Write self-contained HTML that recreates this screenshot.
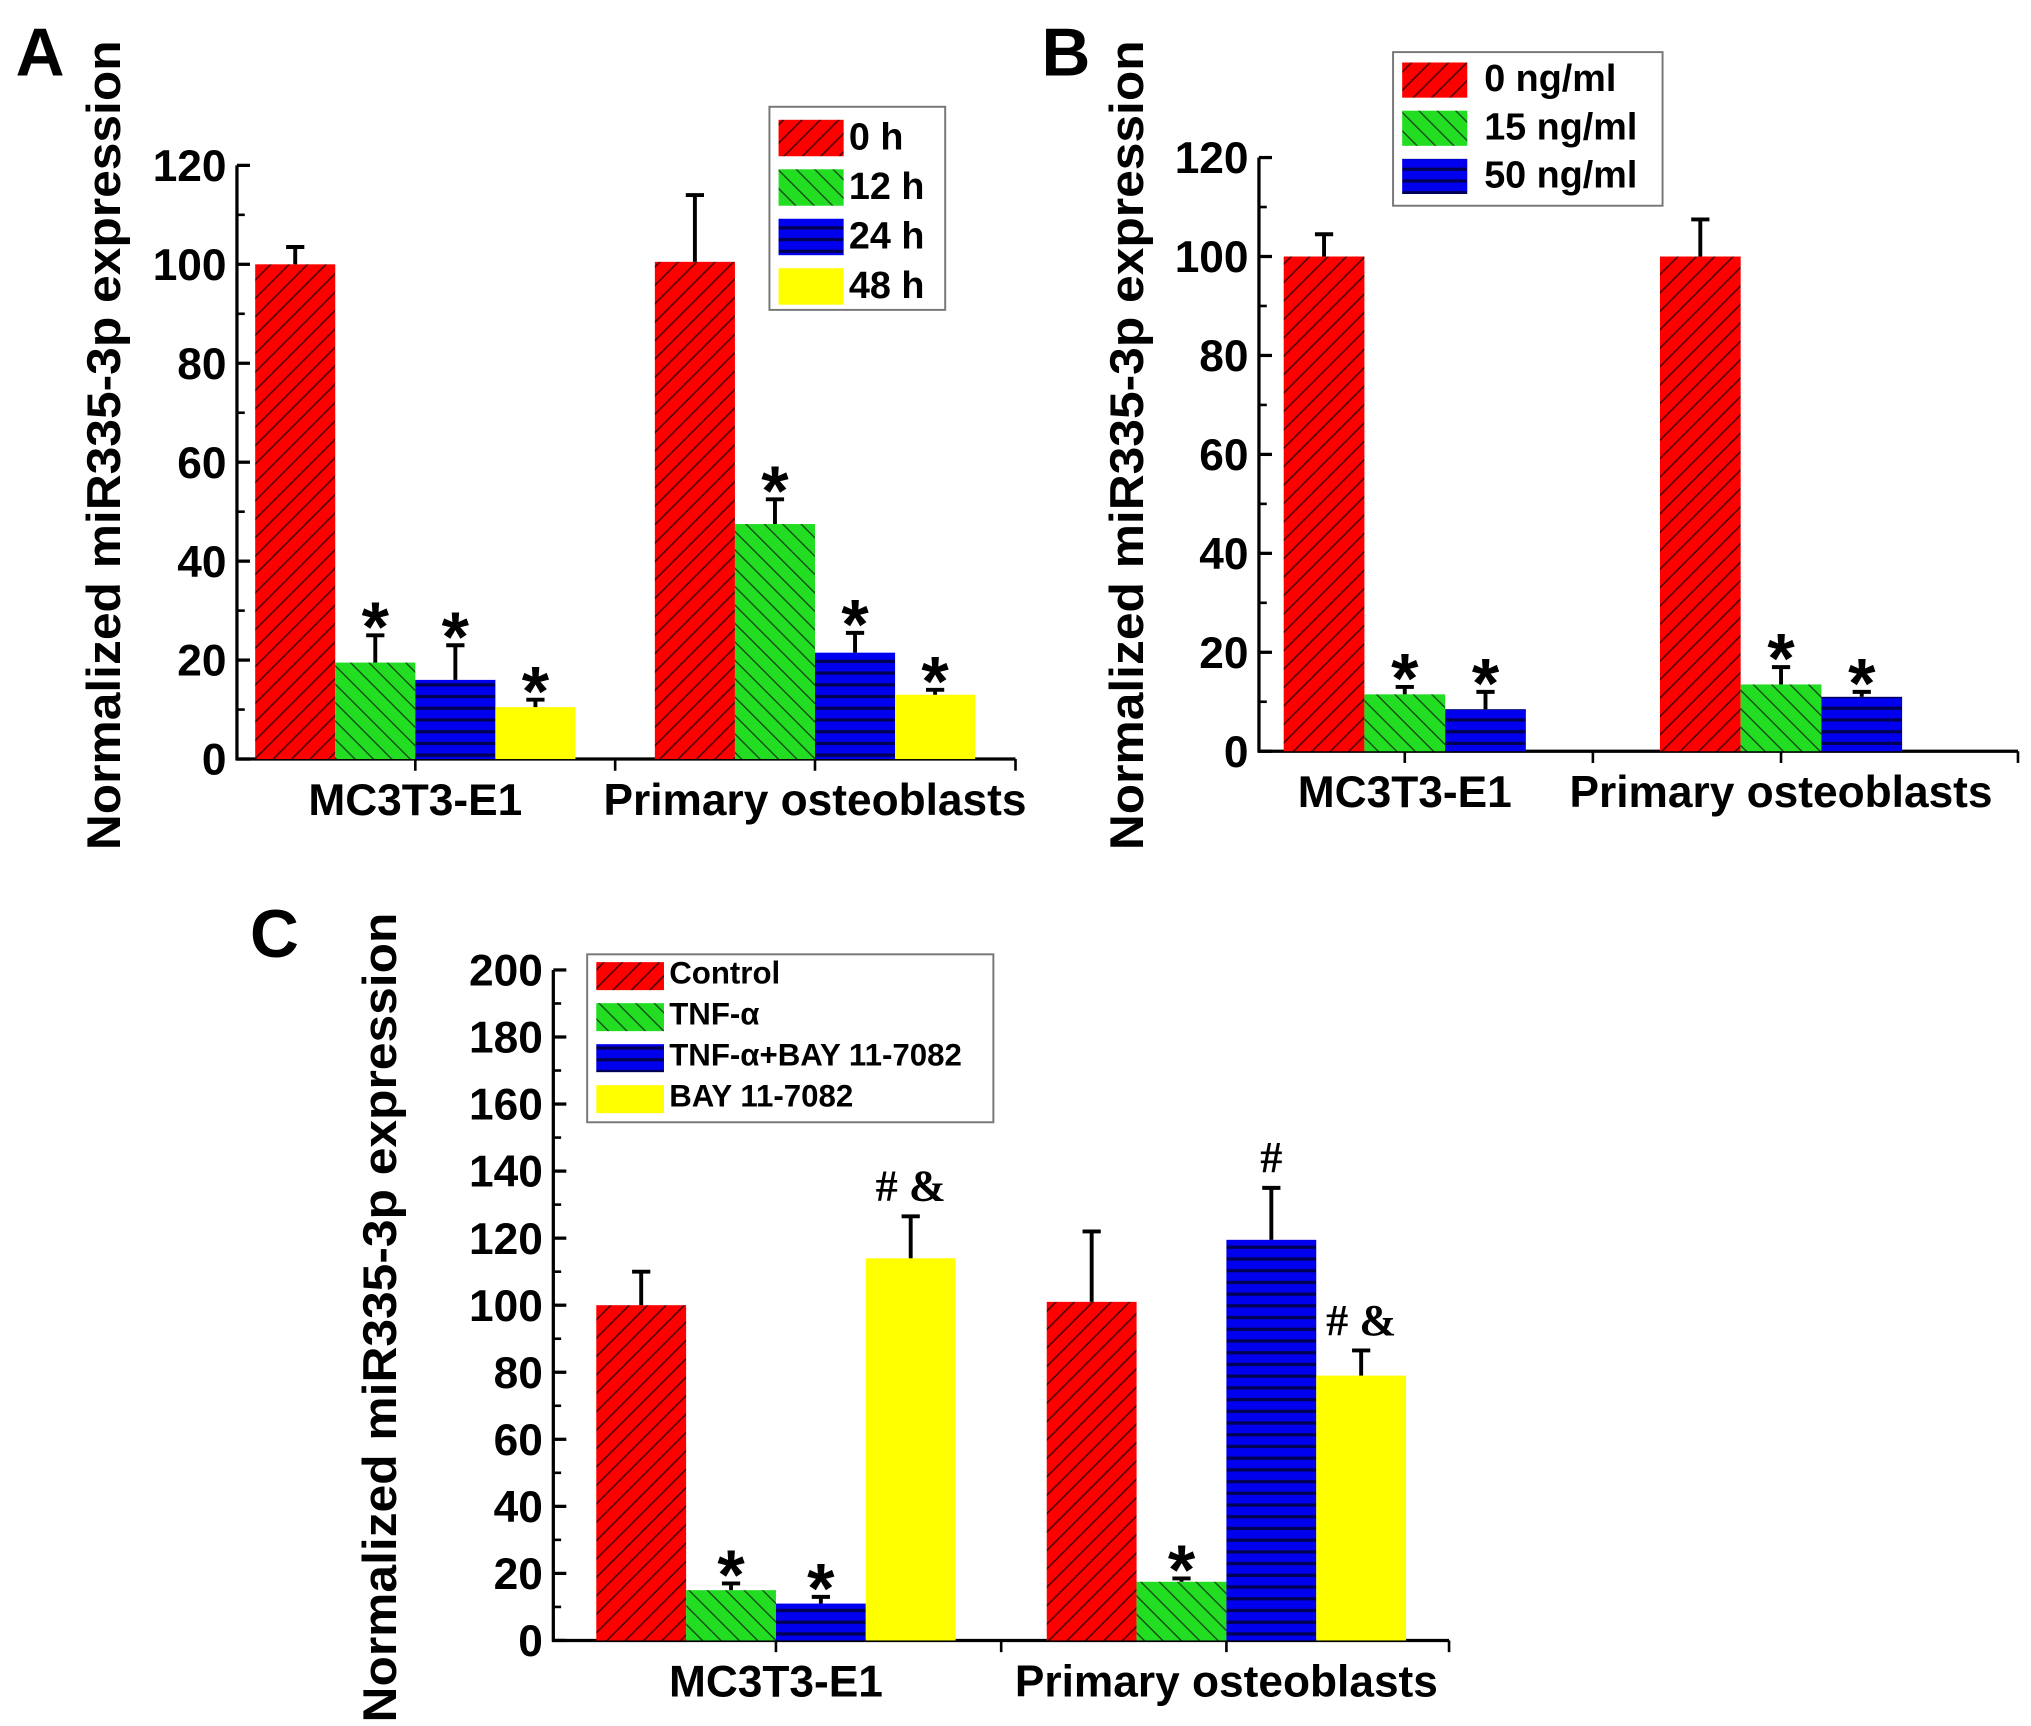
<!DOCTYPE html>
<html><head><meta charset="utf-8"><style>
html,body{margin:0;padding:0;background:#fff;}
svg{display:block;font-family:"Liberation Sans",sans-serif;font-weight:bold;}
</style></head><body>
<svg id="fig" width="2031" height="1726" viewBox="0 0 1560 1325.7" xmlns="http://www.w3.org/2000/svg">
<defs>
<pattern id="pRed" patternUnits="userSpaceOnUse" width="10" height="10" patternTransform="rotate(45)">
<rect width="10" height="10" fill="#ff0000"/><line x1="0" y1="0" x2="0" y2="10" stroke="#550000" stroke-width="2.5"/></pattern>
<pattern id="pGreen" patternUnits="userSpaceOnUse" width="10" height="10" patternTransform="rotate(-45)">
<rect width="10" height="10" fill="#22dd22"/><line x1="0" y1="0" x2="0" y2="10" stroke="#114411" stroke-width="2"/></pattern>
<pattern id="pBlue" patternUnits="userSpaceOnUse" width="12" height="9">
<rect width="12" height="9" fill="#0000ee"/><line x1="0" y1="4" x2="12" y2="4" stroke="#000055" stroke-width="2.5"/></pattern>
<pattern id="pYellow" patternUnits="userSpaceOnUse" width="10" height="10"><rect width="10" height="10" fill="#ffff00"/></pattern>
</defs>
</svg>
<script>
// Panel A data
const catsA = ["MC3T3-E1","Primary osteoblasts"];
const seriesA = ["0 h","12 h","24 h","48 h"];
const valsA = [[100,19.5,16,10.5],[100.5,47.5,21.5,13]];
const errA = [[3.5,5.5,7,1.5],[13.5,5,4,1]];
const marksA = [["","*","*","*"],["","*","*","*"]];
const ticksA = [0,20,40,60,80,100,120];
// Panel B data
const catsB = ["MC3T3-E1","Primary osteoblasts"];
const seriesB = ["0 ng/ml","15 ng/ml","50 ng/ml"];
const valsB = [[100,11.5,8.5],[100,13.5,11]];
const errB = [[4.5,1.5,3.5],[7.5,3.5,1]];
const marksB = [["","*","*"],["","*","*"]];
const ticksB = [0,20,40,60,80,100,120];
// Panel C data
const catsC = ["MC3T3-E1","Primary osteoblasts"];
const seriesC = ["Control","TNF-α","TNF-α+BAY 11-7082","BAY 11-7082"];
const valsC = [[100,15,11,114],[101,17.5,119.5,79]];
const errC = [[10,2,2,12.5],[21,1,15.5,7.5]];
const marksC = [["","*","*","# &"],["","*","#","# &"]];
const ticksC = [0,20,40,60,80,100,120,140,160,180,200];

const fills = ["url(#pRed)","url(#pGreen)","url(#pBlue)","url(#pYellow)"];
const svg = document.getElementById('fig');
const NS = "http://www.w3.org/2000/svg";
function mk(tag, attrs, parent){const e=document.createElementNS(NS,tag);for(const k in attrs)e.setAttribute(k,attrs[k]);(parent||svg).appendChild(e);return e;}

function panel(o){
  const g = mk('g',{});
  
  
  const y = v => o.y0 - v * (o.y0 - o.yTop) / o.yMax;
  const ticks = o.ticks;
  const ax = mk('line',{x1:o.ax,y1:y(ticks[ticks.length-1]),x2:o.ax,y2:o.y0+1,stroke:'#000','stroke-width':2.5},g);
  
  
  const xa = mk('line',{x1:o.ax-1,y1:o.y0,x2:o.axEnd,y2:o.y0,stroke:'#000','stroke-width':2.5},g);
  
  
  const step = ticks[1]-ticks[0];
  for(let i=0;i<ticks.length;i++){
    const t=ticks[i];
    mk('line',{x1:o.ax,y1:y(t),x2:o.ax+10,y2:y(t),stroke:'#000','stroke-width':2.5},g);
    if(i<ticks.length-1) mk('line',{x1:o.ax,y1:y(t+step/2),x2:o.ax+6,y2:y(t+step/2),stroke:'#000','stroke-width':2},g);
    const tl = mk('text',{x:o.ax-8,y:y(t)+12,'text-anchor':'end','font-size':o.tickFs},g);
    tl.textContent = t;
    
    
  }
  const nS = o.vals[0].length;
  const groupW = o.bw*nS;
  const centers = o.gx.map(s=>s+groupW/2);
  const mid = (o.gx[0]+groupW + o.gx[1])/2;
  [centers[0],mid,centers[1],o.axEnd].forEach(xx=>mk('line',{x1:xx,y1:o.y0,x2:xx,y2:o.y0+9,stroke:'#000','stroke-width':2},g));
  for(let c=0;c<o.cats.length;c++){
    const cl = mk('text',{x:centers[c]+(c===1?o.cat2Shift:0),y:o.y0+43,'text-anchor':'middle','font-size':o.catFs},g);
    cl.textContent = o.cats[c];
    
    
    for(let s=0;s<nS;s++){
      const v=o.vals[c][s], e=o.err[c][s];
      const x0=o.gx[c]+s*o.bw, xc=x0+o.bw/2;
      const r = mk('rect',{x:x0,y:y(v),width:o.bw,height:o.y0-y(v),fill:fills[s]},g);
      
      
      mk('line',{x1:xc,y1:y(v),x2:xc,y2:y(v+e),stroke:'#000','stroke-width':3},g);
      mk('line',{x1:xc-7,y1:y(v+e),x2:xc+7,y2:y(v+e),stroke:'#000','stroke-width':3},g);
      const m=o.marks[c][s];
      if(m){
        const isStar = m==='*';
        const mt = mk('text',{x:xc,y:y(v+e)-(isStar?-12:12),'text-anchor':'middle','font-size':isStar?54:34,
          'font-family':isStar?'Liberation Sans, sans-serif':'Liberation Serif, serif'},g);
        mt.textContent = m;
        
        
      }
    }
  }
  const yt = mk('text',{x:0,y:0,transform:`translate(${o.titleX},${o.titleY}) rotate(-90)`,'text-anchor':'middle','font-size':o.titleFs,textLength:o.titleLen,lengthAdjust:'spacingAndGlyphs'},g);
  yt.textContent = 'Normalized miR335-3p expression';
  
  
  const pl = mk('text',{x:o.letter[0],y:o.letter[1],'font-size':52},g);
  pl.textContent = o.letterText;
  
  
  const L=o.leg;
  const lg = mk('g',{},g);
  
  
  mk('rect',{x:L.x,y:L.y,width:L.w,height:L.h,fill:'#fff',stroke:'#777','stroke-width':1.5},lg);
  for(let s=0;s<o.series.length;s++){
    const ry=L.y+L.pad+s*L.rh;
    mk('rect',{x:L.x+7,y:ry,width:L.sw,height:L.rh-10,fill:fills[s]},lg);
    const lt = mk('text',{x:L.tx,y:ry+L.rh-15,'font-size':L.fs},lg);
    lt.textContent = o.series[s];
    
    
  }
}

panel({name:'panel-a',cats:catsA,series:seriesA,vals:valsA,err:errA,marks:marksA,ticks:ticksA,
  ax:182,axEnd:780,y0:583,yTop:127,yMax:120,bw:61.5,gx:[196,503],tickFs:34,catFs:34,cat2Shift:0,
  titleX:92,titleY:342,titleFs:36,titleLen:622,letter:[12,58],letterText:'A',
  leg:{x:591,y:82,w:135,h:156,pad:10,rh:38,sw:50,tx:652,fs:29}});
panel({name:'panel-b',cats:catsB,series:seriesB,vals:valsB,err:errB,marks:marksB,ticks:ticksB,
  ax:967,axEnd:1550,y0:577,yTop:121,yMax:120,bw:62,gx:[986,1275],tickFs:34,catFs:34,cat2Shift:0,
  titleX:878,titleY:342,titleFs:36,titleLen:622,letter:[800,58],letterText:'B',
  leg:{x:1070,y:40,w:207,h:118,pad:8,rh:37,sw:50,tx:1140,fs:29}});
panel({name:'panel-c',cats:catsC,series:seriesC,vals:valsC,err:errC,marks:marksC,ticks:ticksC,
  ax:425,axEnd:1113,y0:1260,yTop:745,yMax:200,bw:69,gx:[458,804],tickFs:34,catFs:34,cat2Shift:0,
  titleX:304,titleY:1012,titleFs:36,titleLen:622,letter:[192,735],letterText:'C',
  leg:{x:451,y:733,w:312,h:129,pad:6,rh:31.5,sw:52,tx:514,fs:24}});
</script>
</body></html>
